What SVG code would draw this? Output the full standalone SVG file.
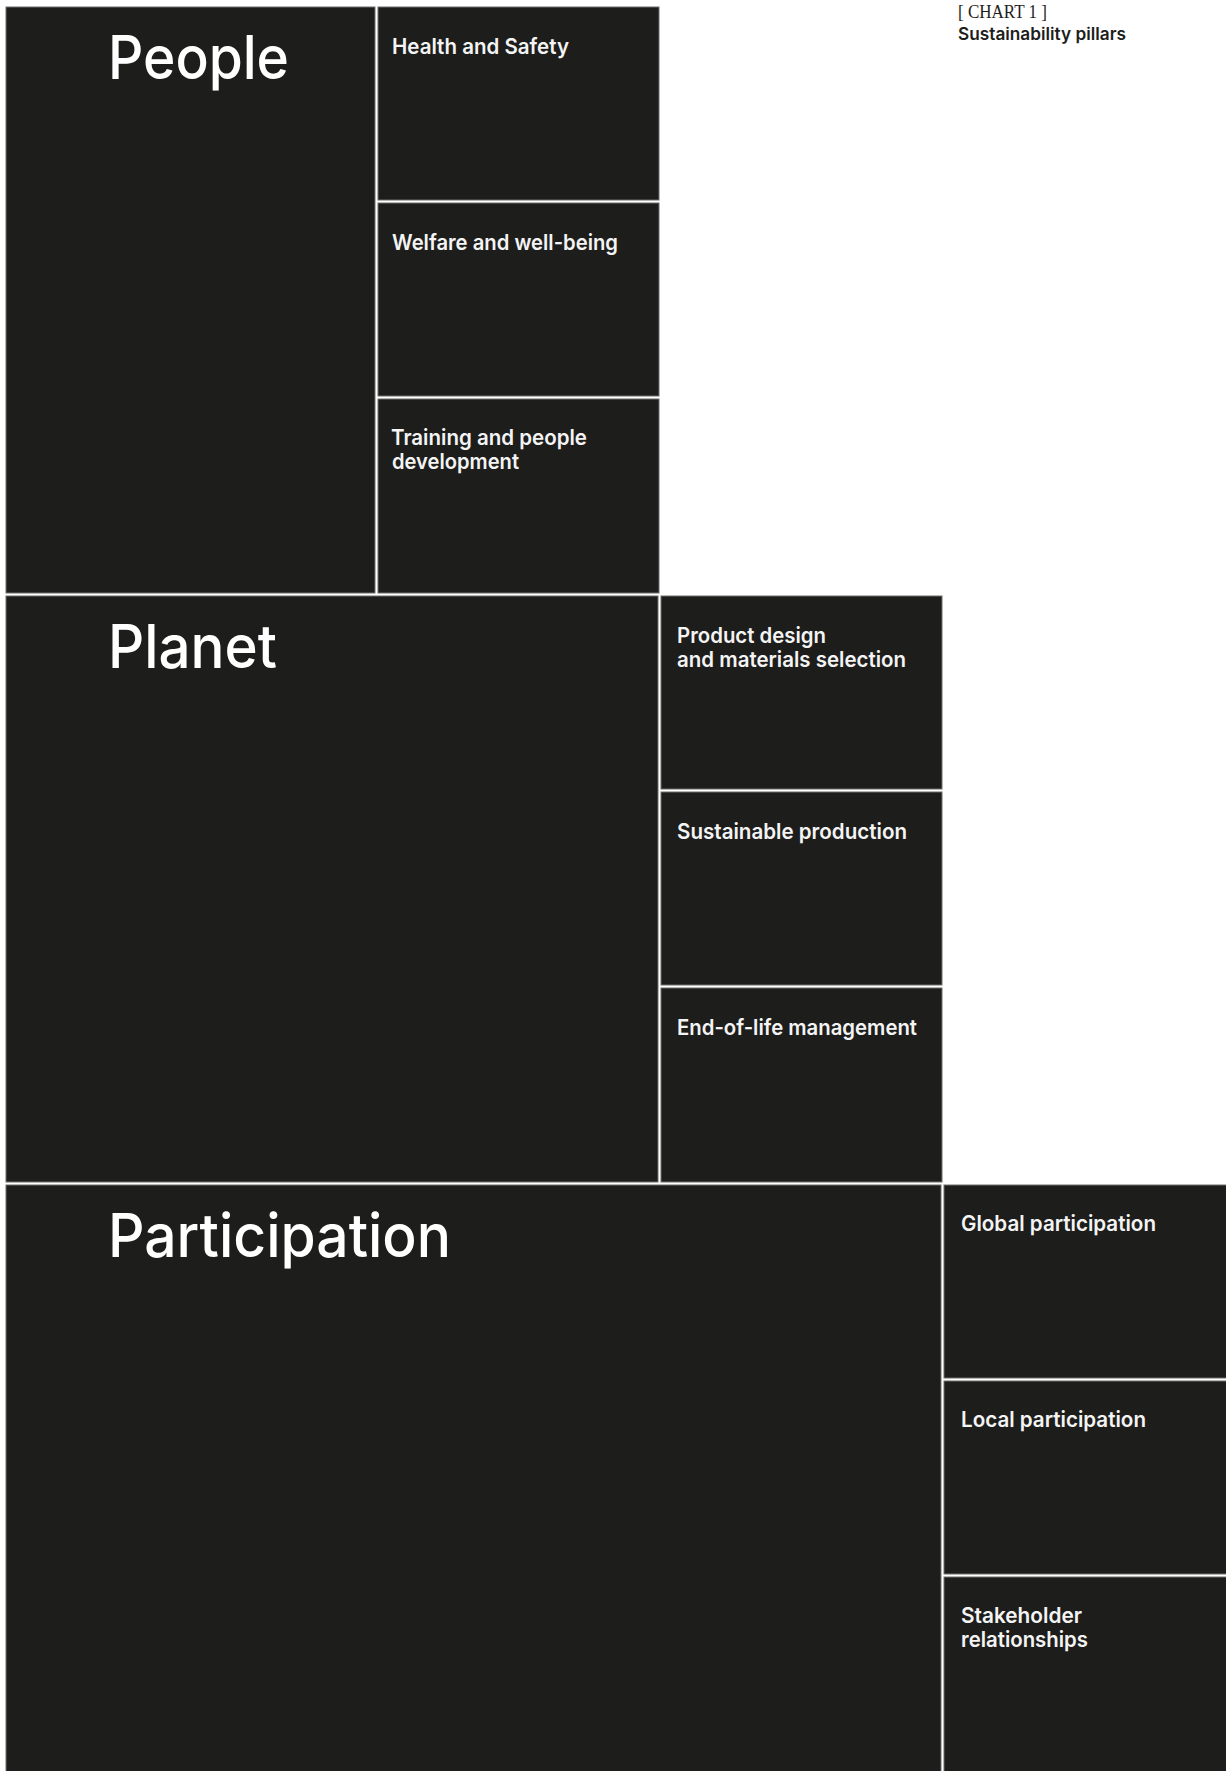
<svg xmlns="http://www.w3.org/2000/svg" width="1226" height="1771" viewBox="0 0 1226 1771">
<style>
.box{fill:#1d1d1b;stroke:#6e6e6e;stroke-width:1}
.title{font-family:Inter,"Liberation Sans",Arial,sans-serif;font-weight:500;font-size:60px;fill:#ffffff}
.label{font-family:Inter,"Liberation Sans",Arial,sans-serif;font-weight:600;font-size:21.5px;fill:#f4f4f4}
.cap1{font-family:"Liberation Serif","Times New Roman",serif;font-size:19px;fill:#1d1d1b}
.cap2{font-family:Inter,"Liberation Sans",Arial,sans-serif;font-weight:600;font-size:17px;fill:#1d1d1b}
</style>
<rect x="0" y="0" width="1226" height="1771" fill="#ffffff"/>
<g id="caption">
<text class="cap1" x="958" y="18" textLength="89" lengthAdjust="spacingAndGlyphs">[ CHART 1 ]</text>
<text class="cap2" x="958" y="40" textLength="168" lengthAdjust="spacingAndGlyphs">Sustainability pillars</text>
</g>
<g id="people">
<rect class="box" x="6" y="7" width="369" height="586"/>
<text class="title" x="108" y="79" textLength="181" lengthAdjust="spacingAndGlyphs">People</text>
</g>
<g id="health-safety">
<rect class="box" x="378" y="7" width="281" height="193"/>
<text class="label" x="392" y="54" textLength="177" lengthAdjust="spacingAndGlyphs">Health and Safety</text>
</g>
<g id="welfare">
<rect class="box" x="378" y="203" width="281" height="193"/>
<text class="label" x="392" y="250" textLength="226" lengthAdjust="spacingAndGlyphs">Welfare and well-being</text>
</g>
<g id="training">
<rect class="box" x="378" y="399" width="281" height="194"/>
<text class="label" x="391" y="445" textLength="196" lengthAdjust="spacingAndGlyphs">Training and people</text>
<text class="label" x="392" y="469" textLength="127" lengthAdjust="spacingAndGlyphs">development</text>
</g>
<g id="planet">
<rect class="box" x="6" y="596" width="652" height="586"/>
<text class="title" x="108" y="668" textLength="169" lengthAdjust="spacingAndGlyphs">Planet</text>
</g>
<g id="product-design">
<rect class="box" x="661" y="596" width="281" height="193"/>
<text class="label" x="677" y="643" textLength="149" lengthAdjust="spacingAndGlyphs">Product design</text>
<text class="label" x="677" y="667" textLength="229" lengthAdjust="spacingAndGlyphs">and materials selection</text>
</g>
<g id="sustainable-production">
<rect class="box" x="661" y="792" width="281" height="193"/>
<text class="label" x="677" y="839" textLength="230" lengthAdjust="spacingAndGlyphs">Sustainable production</text>
</g>
<g id="end-of-life">
<rect class="box" x="661" y="988" width="281" height="194"/>
<text class="label" x="677" y="1035" textLength="240" lengthAdjust="spacingAndGlyphs">End-of-life management</text>
</g>
<g id="participation">
<rect class="box" x="6" y="1185" width="935" height="600"/>
<text class="title" x="108" y="1257" textLength="343" lengthAdjust="spacingAndGlyphs">Participation</text>
</g>
<g id="global-participation">
<rect class="box" x="944" y="1185" width="290" height="193"/>
<text class="label" x="961" y="1231" textLength="195" lengthAdjust="spacingAndGlyphs">Global participation</text>
</g>
<g id="local-participation">
<rect class="box" x="944" y="1381" width="290" height="193"/>
<text class="label" x="961" y="1427" textLength="185" lengthAdjust="spacingAndGlyphs">Local participation</text>
</g>
<g id="stakeholder-relationships">
<rect class="box" x="944" y="1577" width="290" height="210"/>
<text class="label" x="961" y="1623" textLength="121" lengthAdjust="spacingAndGlyphs">Stakeholder</text>
<text class="label" x="961" y="1647" textLength="127" lengthAdjust="spacingAndGlyphs">relationships</text>
</g>
</svg>
